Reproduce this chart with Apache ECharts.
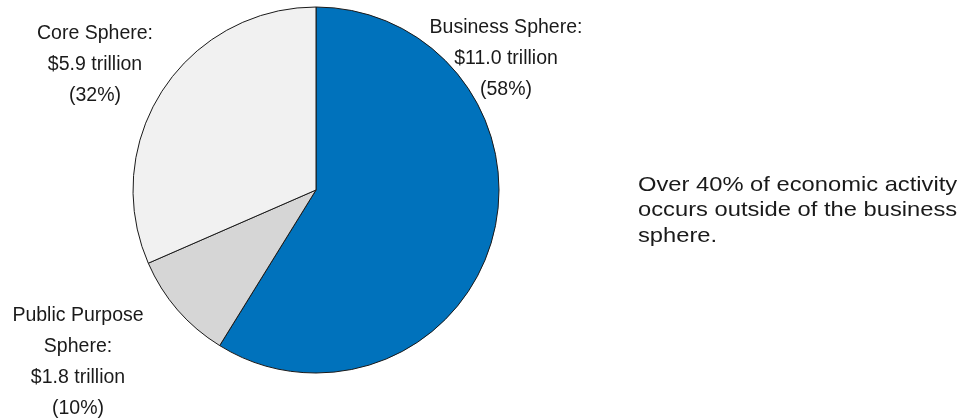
<!DOCTYPE html>
<html>
<head>
<meta charset="utf-8">
<script src="https://cdn.jsdelivr.net/npm/echarts@6/dist/echarts.min.js"></script>
<style>
  html, body { margin: 0; padding: 0; background: #fff; }
  #main { width: 970px; height: 418px; }
</style>
</head>
<body>
<div id="main"></div>
<script>
// spheres of economic activity, trillions of dollars
const categories = ['Business Sphere:', 'Public Purpose\nSphere:', 'Core Sphere:'];
const values = [11.0, 1.8, 5.9];
const shares = [58, 10, 32];
const colors = ['#0072bc', '#d6d6d6', '#f1f1f1'];
const noteText = 'Over 40% of economic activity\noccurs outside of the business\nsphere.';

// where each label block sits (centre of the block)
const labelPos = [[506, 59], [78, 362], [95, 65]];

const FONT = '"Liberation Sans", Arial, Helvetica, sans-serif';

const chart = echarts.init(document.getElementById('main'), null, { renderer: 'canvas' });

const option = {
  backgroundColor: '#fff',
  animation: false,
  series: [{
    type: 'pie',
    center: [316, 190],
    radius: [0, 183],
    startAngle: 90,
    clockwise: true,
    silent: true,
    itemStyle: { borderColor: '#1a1a1a', borderWidth: 1 },
    label: {
      show: true,
      position: 'outside',
      overflow: 'none',
      color: '#1a1a1a',
      fontFamily: FONT,
      fontSize: 19.5,
      lineHeight: 31,
      align: 'center',
      formatter: p => `${p.name}\n$${values[p.dataIndex].toFixed(1)} trillion\n(${shares[p.dataIndex]}%)`
    },
    labelLine: { show: false },
    labelLayout: p => ({
      x: labelPos[p.dataIndex][0],
      y: labelPos[p.dataIndex][1],
      align: 'center',
      verticalAlign: 'middle'
    }),
    data: categories.map((c, i) => ({
      name: c,
      value: values[i],
      itemStyle: { color: colors[i] }
    }))
  }],
  graphic: [{
    type: 'text',
    left: 638,
    top: 172,
    scaleX: 1.13,
    style: {
      text: noteText,
      font: `21px ${FONT}`,
      fill: '#1a1a1a',
      lineHeight: 25.5
    }
  }]
};

chart.setOption(option);
</script>
</body>
</html>
